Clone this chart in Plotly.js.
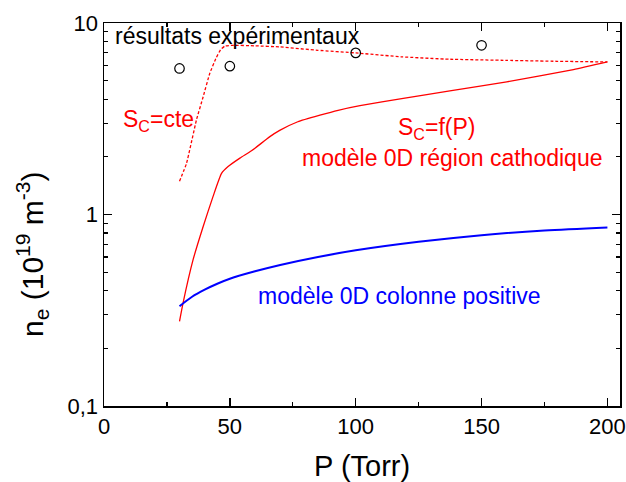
<!DOCTYPE html>
<html>
<head>
<meta charset="utf-8">
<script src="https://cdn.plot.ly/plotly-3.0.1.min.js"></script>
<style>html,body{margin:0;padding:0;background:#fff;}#chart{width:626px;height:482px;}</style>
</head>
<body>
<div id="chart"></div>
<script>
// Experimental results
var expP = [30, 50, 100, 150];
var expNe = [5.79, 5.95, 6.98, 7.65];

// Cathode-region 0D model, S_C = cte (dashed)
var cteP = [30, 32.8, 36.7, 39.4, 42, 44.5, 46.3, 48, 51, 60, 70, 85, 100, 118, 137, 160, 180, 200];
var cteNe = [1.49, 1.85, 3.11, 4.12, 5.45, 6.55, 7.25, 7.58, 7.65, 7.6, 7.5, 7.2, 6.98, 6.66, 6.47, 6.38, 6.31, 6.26];

// Cathode-region 0D model, S_C = f(P) (solid)
var fpP = [30, 31.4, 35.4, 39.4, 43.3, 46.7, 49.3, 54, 58.6, 65.9, 69.8, 77, 85.8, 93, 101.7, 118.9, 137.4, 160, 186.5, 200];
var fpNe = [0.277, 0.345, 0.581, 0.866, 1.24, 1.64, 1.78, 1.97, 2.15, 2.55, 2.75, 3.05, 3.3, 3.5, 3.7, 4.04, 4.42, 4.93, 5.71, 6.26];

// Positive column 0D model (blue)
var pcP = [30, 35, 40, 45, 50, 60, 70, 85, 100, 125, 150, 175, 200];
var pcNe = [0.332, 0.372, 0.405, 0.435, 0.462, 0.505, 0.545, 0.60, 0.65, 0.72, 0.78, 0.825, 0.856];

// Axis ticks
var xTicks = [0, 50, 100, 150, 200];
var xMinor = [25, 75, 125, 175];
var yTicks = [0.1, 1, 10];
var yTickText = ['0,1', '1', '10'];
var yMinor = [0.2, 0.3, 0.4, 0.5, 0.6, 0.7, 0.8, 0.9, 2, 3, 4, 5, 6, 7, 8, 9];

var FONT = 'Liberation Sans, Arial, sans-serif';
var RED = '#ff0000', BLUE = '#0000ff';

var traces = [
  {x: cteP, y: cteNe, mode: 'lines', line: {color: RED, width: 1.3, dash: '3px,2px', shape: 'spline', smoothing: 0.3}, hoverinfo: 'skip'},
  {x: fpP, y: fpNe, mode: 'lines', line: {color: RED, width: 1.3, shape: 'spline', smoothing: 0.5}, hoverinfo: 'skip'},
  {x: pcP, y: pcNe, mode: 'lines', line: {color: BLUE, width: 2, shape: 'spline', smoothing: 0.8}, hoverinfo: 'skip'},
  {x: expP, y: expNe, mode: 'markers', marker: {symbol: 'circle-open', size: 9.5, color: '#000', line: {width: 1.2, color: '#000'}}, hoverinfo: 'skip'}
];

function px2x(px) { return (px - 104) / 516; }
function py2y(py) { return (406 - py) / 383; }

var annFont = {family: FONT, size: 23};
var annotations = [
  {text: 'résultats expérimentaux', x: px2x(113), y: py2y(36), font: Object.assign({color: '#000'}, annFont)},
  {text: 'S<sub>C</sub>=cte', x: px2x(121), y: py2y(121), font: Object.assign({color: RED}, annFont)},
  {text: 'S<sub>C</sub>=f(P)', x: px2x(396), y: py2y(128), font: Object.assign({color: RED}, annFont)},
  {text: 'modèle 0D région cathodique', x: px2x(300), y: py2y(158), font: Object.assign({color: RED}, annFont)},
  {text: 'modèle 0D colonne positive', x: px2x(256), y: py2y(296), font: Object.assign({color: BLUE}, annFont)},
  {text: 'P (Torr)', x: px2x(362), y: py2y(466), xanchor: 'center', font: {family: FONT, size: 29, color: '#000'}},
  {text: 'n<sub>e</sub> (10<sup>19</sup> m<sup>-3</sup>)', x: px2x(32), y: py2y(255), xanchor: 'center', textangle: -90, font: {family: FONT, size: 30, color: '#000'}}
].map(function (a) {
  return Object.assign({xref: 'paper', yref: 'paper', xanchor: 'left', yanchor: 'middle', showarrow: false}, a);
});

var axisCommon = {
  showline: true, linecolor: '#000', linewidth: 1.5, mirror: 'allticks',
  ticks: 'inside', ticklen: 8, tickwidth: 1.5, tickcolor: '#000',
  showgrid: false, zeroline: false,
  tickfont: {family: FONT, size: 22, color: '#000'}
};

var layout = {
  width: 626, height: 482,
  margin: {l: 104, r: 6, t: 23, b: 76},
  paper_bgcolor: '#fff', plot_bgcolor: '#fff',
  showlegend: false,
  font: {family: FONT, color: '#000'},
  xaxis: Object.assign({}, axisCommon, {
    range: [0, 205], tickmode: 'array', tickvals: xTicks,
    minor: {tickmode: 'array', tickvals: xMinor, ticks: 'inside', ticklen: 4, tickwidth: 1.2, tickcolor: '#000', showgrid: false}
  }),
  yaxis: Object.assign({}, axisCommon, {
    type: 'log', range: [-1, 1], tickmode: 'array', tickvals: yTicks, ticktext: yTickText,
    minor: {tickmode: 'array', tickvals: yMinor, ticks: 'inside', ticklen: 4, tickwidth: 1.2, tickcolor: '#000', showgrid: false}
  }),
  annotations: annotations
};

Plotly.newPlot('chart', traces, layout, {staticPlot: true, displayModeBar: false});
</script>
</body>
</html>
